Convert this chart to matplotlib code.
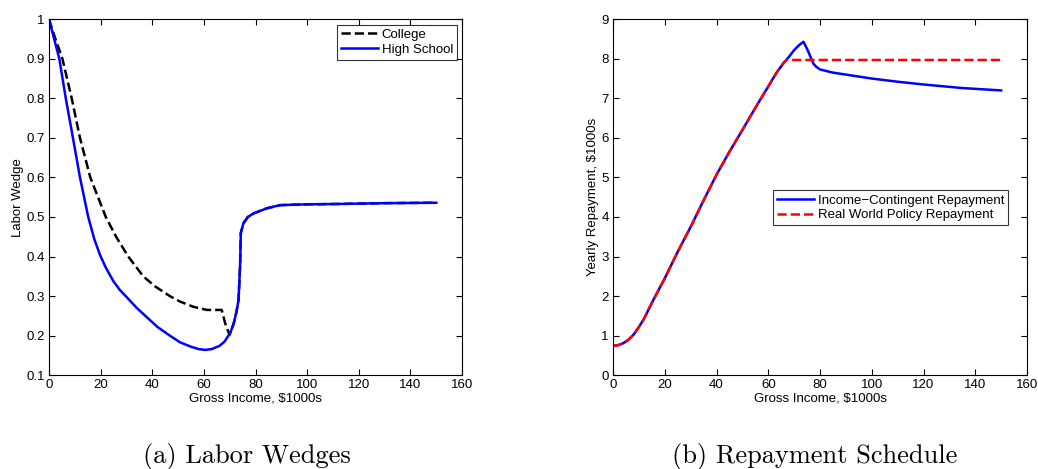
import matplotlib.pyplot as plt

# panel (a): labor wedges
hs_income = [0, 2, 4, 6.5, 9, 12, 15.2, 17.5, 19.7, 22, 25, 27.5, 30, 34, 38, 42, 46.8,
             50.8, 55, 58, 60.5, 63, 66, 68, 70.2, 71.5, 72.6, 73.4, 74.0, 74.3, 75.3, 77,
             79.2, 84.4, 89.5, 100, 112.8, 130, 150]
hs_wedge = [1.0, 0.95, 0.9, 0.8, 0.71, 0.6, 0.5, 0.445, 0.405, 0.372, 0.337, 0.315, 0.298,
            0.27, 0.246, 0.222, 0.2, 0.183, 0.172, 0.166, 0.164, 0.166, 0.174, 0.185, 0.207,
            0.23, 0.26, 0.29, 0.375, 0.46, 0.484, 0.5, 0.509, 0.522, 0.53, 0.532, 0.533,
            0.535, 0.536]
col_income = [0, 2.5, 5.2, 8.8, 12, 16, 22, 26, 30.7, 36.5, 41, 46.8, 50.8, 55.9, 61.1,
              66.9, 68.2, 69.9, 70.2, 71.5, 72.6, 73.4, 74.0, 74.3, 75.3, 77, 79.2, 84.4,
              89.5, 100, 112.8, 130, 150]
col_wedge = [1.0, 0.95, 0.9, 0.8, 0.7, 0.6, 0.5, 0.45, 0.4, 0.35, 0.325, 0.3, 0.286, 0.273,
             0.265, 0.265, 0.232, 0.202, 0.207, 0.23, 0.26, 0.29, 0.375, 0.46, 0.484, 0.5,
             0.509, 0.522, 0.53, 0.532, 0.533, 0.535, 0.536]

# panel (b): repayment schedule
icr_income = [0, 2, 4, 6, 8, 10, 12, 15, 20, 25, 30, 35, 40, 45, 50, 55, 60, 63, 66, 68,
              70, 72, 73.6, 75, 76, 77.4, 78.5, 80, 85, 90, 100, 110, 120, 135, 150]
icr_pay = [0.74, 0.76, 0.81, 0.9, 1.03, 1.22, 1.43, 1.83, 2.45, 3.12, 3.75, 4.42, 5.07,
           5.65, 6.2, 6.76, 7.3, 7.63, 7.9, 8.05, 8.22, 8.35, 8.43, 8.25, 8.1, 7.88, 7.8,
           7.73, 7.65, 7.6, 7.5, 7.42, 7.35, 7.26, 7.2]
rw_income = [0, 2, 4, 6, 8, 10, 12, 15, 20, 25, 30, 35, 40, 45, 50, 55, 60, 63, 66, 67.1, 150]
rw_pay = [0.74, 0.76, 0.81, 0.9, 1.03, 1.22, 1.43, 1.83, 2.45, 3.12, 3.75, 4.42, 5.07,
          5.65, 6.2, 6.76, 7.3, 7.63, 7.9, 7.97, 7.97]

plt.rcParams['font.family'] = ['Liberation Sans', 'DejaVu Sans']
plt.rcParams['font.size'] = 9.5

fig = plt.figure(figsize=(10.38, 4.69), dpi=100)
ax1 = fig.add_axes([0.0472, 0.200, 0.398, 0.759])
ax2 = fig.add_axes([0.5906, 0.200, 0.3988, 0.759])

for ax in (ax1, ax2):
    ax.tick_params(direction='in', top=True, right=True, length=4, pad=3)
    ax.set_xlim(0, 160)
    ax.set_xticks(range(0, 161, 20))
    ax.set_xlabel('Gross Income, $1000s', labelpad=1)
    for s in ax.spines.values():
        s.set_linewidth(0.8)

ax1.plot(col_income, col_wedge, 'k--', lw=1.8, label='College')
ax1.plot(hs_income, hs_wedge, color='#0000ff', lw=1.8, label='High School')
ax1.set_ylim(0.1, 1)
ax1.set_yticks([0.1, 0.2, 0.3, 0.4, 0.5, 0.6, 0.7, 0.8, 0.9, 1])
ax1.set_yticklabels(['0.1', '0.2', '0.3', '0.4', '0.5', '0.6', '0.7', '0.8', '0.9', '1'])
ax1.set_ylabel('Labor Wedge', labelpad=2)
leg1 = ax1.legend(loc='upper right', fancybox=False, edgecolor='black',
                  handlelength=2.8, borderaxespad=0.4, labelspacing=0.2,
                  handletextpad=0.3, borderpad=0.3)
leg1.get_frame().set_linewidth(0.8)

ax2.plot(icr_income, icr_pay, color='#0000ff', lw=1.8, label='Income\u2212Contingent Repayment')
ax2.plot(rw_income, rw_pay, color='#ff0000', ls='--', lw=1.8, label='Real World Policy Repayment')
ax2.set_ylim(0, 9)
ax2.set_yticks(range(0, 10))
ax2.set_ylabel('Yearly Repayment, $1000s', labelpad=2)
leg2 = ax2.legend(loc='center right', bbox_to_anchor=(0.97, 0.47), fancybox=False,
                  edgecolor='black', handlelength=2.8, labelspacing=0.2,
                  handletextpad=0.3, borderpad=0.3)
leg2.get_frame().set_linewidth(0.8)

cap_font = ['cmr10', 'Liberation Serif', 'DejaVu Serif']
fig.text(0.2375, 0.0128, '(a) Labor Wedges', ha='center', va='baseline',
         family=cap_font, fontsize=19)
fig.text(0.785, 0.0128, '(b) Repayment Schedule', ha='center', va='baseline',
         family=cap_font, fontsize=19)

fig.savefig('out.png', dpi=100)
